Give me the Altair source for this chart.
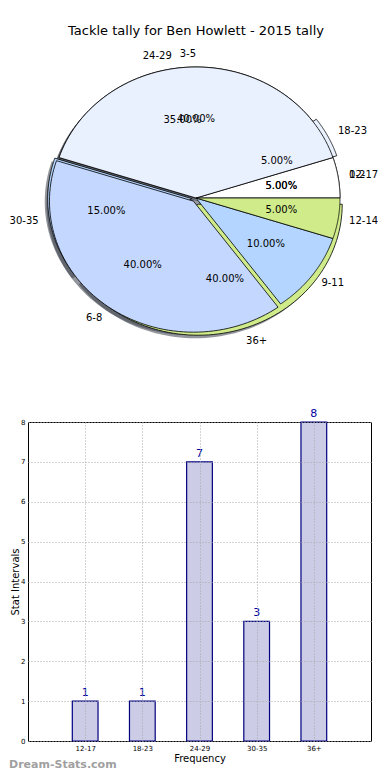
import json
import altair as alt
import pandas as pd

TITLE = "Tackle tally for Ben Howlett - 2015 tally"
FOOTER = "Dream-Stats.com"

# pie 1: tackle tally bins (same as bar chart)
tackle_bins = ["12-17", "18-23", "24-29", "30-35", "36+"]
tackle_counts = [1, 1, 7, 3, 8]
# pie 2: interval bins drawn over it
interval_bins = ["0-2", "3-5", "6-8", "9-11", "12-14"]
interval_pcts = [5, 40, 40, 10, 5]

# styles
slice_colors = ["#ffffff", "#eaf1fe", "#c4d7ff", "#b3d5ff", "#cfeb8a"]
explode_tackle = [0.0, 0.03, 0.0, 0.03, 0.05]
explode_interval = [0.0, 0.0, 0.03, 0.0, 0.0]

FONT = "DejaVu Sans"
X0 = 27            # page x of bar plot / pie panel origin
Y0 = 8
BAR_W = 370 - X0
PIE_W, PIE_H = BAR_W, 345
CX, CY = 195 - X0, 197 - Y0
RX, RY = 144, 131          # wedge rim
LRX, LRY = 155, 144        # label ring
NSEG = 72
BAR_TOP, BAR_H = 421, 319
FOOT_Y = 764

rows = []
for pid, (labs, vals, expl) in enumerate(
    [(tackle_bins, tackle_counts, explode_tackle),
     (interval_bins, interval_pcts, explode_interval)]):
    for i, (lab, v, e) in enumerate(zip(labs, vals, expl)):
        rows.append(dict(pie=pid, order=i, label=lab, value=v,
                         explode=e, color=slice_colors[i]))
pie_df = pd.DataFrame(rows)

base = (
    alt.Chart(pie_df)
    .transform_joinaggregate(total="sum(value)", groupby=["pie"])
    .transform_window(cum="sum(value)", sort=[alt.SortField("order")],
                      groupby=["pie"], frame=[None, 0])
    .transform_calculate(a0="2*PI*(datum.cum-datum.value)/datum.total")
    .transform_calculate(a1="2*PI*datum.cum/datum.total")
    .transform_calculate(mid="(datum.a0+datum.a1)/2")
    .transform_calculate(cx=f"{CX}+datum.explode*{RX}*cos(datum.mid)")
    .transform_calculate(cy=f"{CY}-datum.explode*{RY}*sin(datum.mid)")
    .transform_calculate(px=f"datum.cx+0.6*{RX}*cos(datum.mid)")
    .transform_calculate(py=f"datum.cy-0.6*{RY}*sin(datum.mid)")
    .transform_calculate(lx=f"datum.cx+{LRX}*cos(datum.mid)")
    .transform_calculate(ly=f"datum.cy-{LRY}*sin(datum.mid)")
    .transform_calculate(pct="format(100*datum.value/datum.total,'.2f')+'%'")
)

# wedge outlines sampled along the (elliptical) rim
wedge_base = (
    base.transform_calculate(ks=f"sequence(-1, {NSEG + 2})")
    .transform_flatten(["ks"], as_=["k"])
    .transform_calculate(
        ang=f"datum.a0+(datum.a1-datum.a0)*clamp(datum.k,0,{NSEG})/{NSEG}")
    .transform_calculate(
        inner=f"datum.k<0 || datum.k>{NSEG}")
    .transform_calculate(
        wx=f"datum.inner ? datum.cx : datum.cx+{RX}*cos(datum.ang)")
    .transform_calculate(
        wy=f"datum.inner ? datum.cy : datum.cy-{RY}*sin(datum.ang)")
    .transform_calculate(sx="datum.wx-3")
    .transform_calculate(sy="datum.wy+3")
)

shadows = wedge_base.mark_line(
    fill="#3a3f4a", fillOpacity=0.55, stroke="#3a3f4a", strokeOpacity=0,
    strokeWidth=0
).encode(x=alt.X("sx:Q", scale=None, axis=None),
         y=alt.Y("sy:Q", scale=None, axis=None),
         order="k:Q", detail="label:N")


def wedges(pid):
    return wedge_base.transform_filter(f"datum.pie=={pid}").mark_line(
        stroke="#000000", strokeWidth=0.8, strokeJoin="round"
    ).encode(x=alt.X("wx:Q", scale=None, axis=None),
             y=alt.Y("wy:Q", scale=None, axis=None),
             fill=alt.Fill("color:N", scale=None),
             order="k:Q", detail="label:N")


pct_text = base.mark_text(font=FONT, fontSize=10, color="#000000").encode(
    x=alt.X("px:Q", scale=None, axis=None),
    y=alt.Y("py:Q", scale=None, axis=None),
    text="pct:N")

lab_right = base.transform_filter("cos(datum.mid)>1e-6").mark_text(
    font=FONT, fontSize=10, align="left", color="#000000").encode(
    x=alt.X("lx:Q", scale=None, axis=None),
    y=alt.Y("ly:Q", scale=None, axis=None), text="label:N")
lab_left = base.transform_filter("cos(datum.mid)<=1e-6").mark_text(
    font=FONT, fontSize=10, align="right", color="#000000").encode(
    x=alt.X("lx:Q", scale=None, axis=None),
    y=alt.Y("ly:Q", scale=None, axis=None), text="label:N")

title_txt = alt.Chart(pd.DataFrame({"t": [TITLE]})).mark_text(
    font=FONT, fontSize=13, color="#000000").encode(
    x=alt.value(CX), y=alt.value(30 - Y0), text="t:N")

pie = alt.layer(shadows, wedges(0), wedges(1),
                pct_text, lab_right, lab_left, title_txt).properties(
    width=PIE_W, height=PIE_H)

# ---- bar chart
bar_df = pd.DataFrame({"bin": tackle_bins, "count": tackle_counts,
                       "idx": list(range(len(tackle_bins)))})
label_expr = json.dumps(tackle_bins) + "[datum.value]"

xaxis = alt.Axis(values=list(range(len(tackle_bins))), labelExpr=label_expr,
                 title="Frequency", titleFontSize=10, titleFont=FONT,
                 titleFontWeight="normal", titlePadding=2,
                 labelFontSize=7, labelFont=FONT, labelPadding=3,
                 ticks=False, domain=False, grid=True, gridDash=[1, 2],
                 gridColor="#a8a8a8", zindex=1, labelColor="#000000",
                 titleColor="#000000")
yaxis = alt.Axis(values=list(range(9)), title="Stat Intervals",
                 titleFontSize=10, titleFont=FONT, titleFontWeight="normal",
                 titlePadding=0, labelFontSize=7, labelFont=FONT,
                 labelPadding=3, ticks=False, domain=False, grid=True,
                 gridDash=[1, 2], gridColor="#a8a8a8", zindex=1,
                 labelColor="#000000", titleColor="#000000",
                 labelOverlap=False)
xscale = alt.Scale(domain=[-1, 5], nice=False, zero=False)
yscale = alt.Scale(domain=[0, 8], nice=False)

bars = alt.Chart(bar_df).transform_calculate(
    x0="datum.idx-0.225", x1="datum.idx+0.225"
).mark_bar(fill="#000080", fillOpacity=0.2, stroke="#000080",
           strokeWidth=1.2).encode(
    x=alt.X("x0:Q", scale=xscale, axis=xaxis),
    x2="x1:Q",
    y=alt.Y("count:Q", scale=yscale, axis=yaxis),
    y2=alt.datum(0),
)
bar_labels = alt.Chart(bar_df).mark_text(
    font=FONT, fontSize=11, color="#0000a0", baseline="bottom", dy=-3
).encode(x=alt.X("idx:Q", scale=xscale, axis=xaxis),
         y=alt.Y("count:Q", scale=yscale, axis=yaxis),
         text="count:Q")

footer = alt.Chart(pd.DataFrame({"t": [FOOTER]})).mark_text(
    font=FONT, fontSize=11, fontWeight="bold", color="#a0a0a0",
    align="left", baseline="middle").encode(
    x=alt.value(8 - X0), y=alt.value(FOOT_Y - BAR_TOP), text="t:N")

bar = alt.layer(bars, bar_labels, footer).properties(
    width=BAR_W, height=BAR_H,
    view=alt.ViewBackground(stroke="#000000", strokeWidth=1))

chart = alt.vconcat(
    pie, bar, spacing=BAR_TOP - Y0 - PIE_H, bounds="flush",
    padding={"left": 0, "top": 0, "right": 0, "bottom": 0}
).configure(font=FONT).configure_view(stroke="transparent")

chart.save("out.html", embed_options={"renderer": "svg", "actions": False})
